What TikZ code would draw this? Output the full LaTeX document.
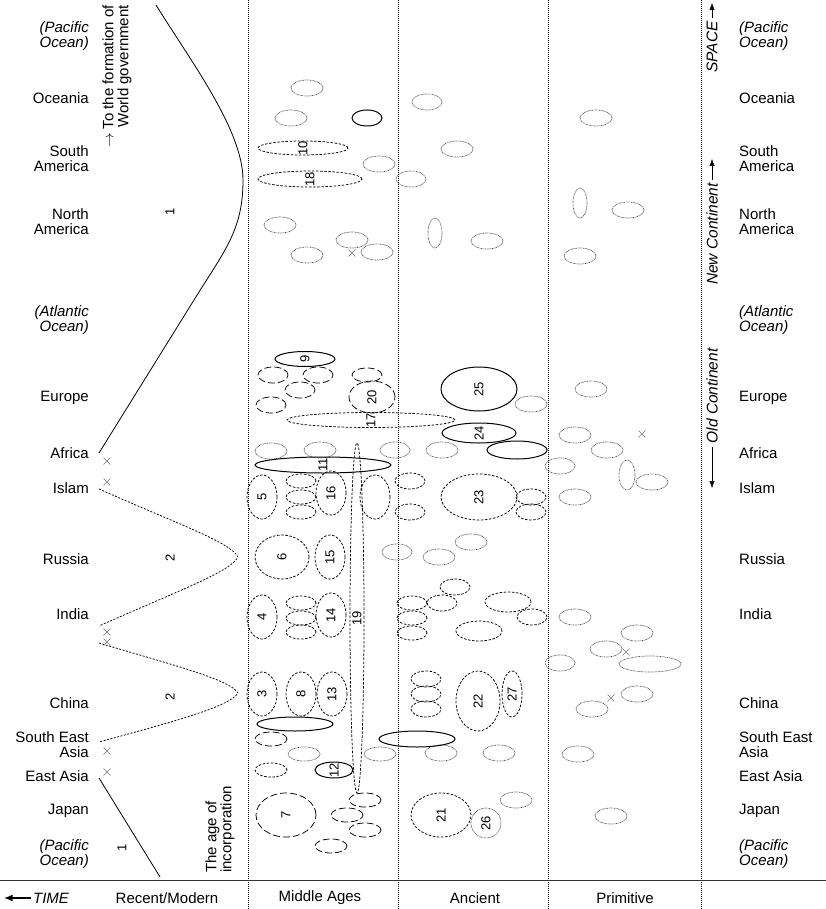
\documentclass[tikz,border=0pt]{standalone}
\usepackage{fontspec}
\setmainfont{Liberation Sans}
\usetikzlibrary{arrows.meta}

\begin{document}
\begin{tikzpicture}[x=1pt, y=-1pt, >={Latex[length=2.4mm, width=1.8mm]},
  every node/.style={font=\fontsize{15}{15}\selectfont, inner sep=0pt},
  plain/.style={},
  ital/.style={font=\fontsize{15}{15}\selectfont\itshape},
  place/.style={align=right, anchor=east},
  placer/.style={align=left, anchor=west},
  rot/.style={rotate=90, font=\fontsize{15.5}{15}\selectfont\itshape},
  num/.style={rotate=90, font=\fontsize{13}{13}\selectfont},
  divider/.style={line width=0.7pt, dash pattern=on 1pt off 1pt},
  dotblob/.style={black!70, line width=0.7pt, dash pattern=on 0.7pt off 0.7pt},
  dashblob/.style={line width=0.75pt, dash pattern=on 2.5pt off 1.6pt},
  longblob/.style={line width=0.75pt, dash pattern=on 7pt off 3pt},
  solidblob/.style={line width=1pt},
  wave/.style={line width=0.8pt},
  dotwave/.style={line width=0.75pt, dash pattern=on 2pt off 1.5pt},
  cross/.style={black!55, line width=0.55pt}]

\useasboundingbox (0,0) rectangle (826,909);

% columns and the time axis
\foreach \x in {248,398,548,701}
  \draw[divider] (\x,0) -- (\x,909);
\draw[black!80, line width=0.8pt] (0,880) -- (826,880);

% places, both sides
\foreach \n/\y/\s/\t in {pacA/36/ital/{(Pacific\\Ocean)}, oce/98/plain/Oceania,
    sam/159/plain/{South\\America}, nam/222/plain/{North\\America},
    atl/320/ital/{(Atlantic\\Ocean)}, eur/398/plain/Europe, afr/453/plain/Africa,
    isl/488/plain/Islam, rus/559/plain/Russia, ind/614/plain/India,
    chi/703/plain/China, sea/745/plain/{South East\\Asia}, eas/776/plain/East Asia,
    jap/811/plain/Japan, pacB/854/ital/{(Pacific\\Ocean)}}
{
  \node[place, \s] (l\n) at (89,\y) {\t};
  \node[placer, \s] (r\n) at (739,\y) {\t};
}

% periods
\node (time) at (51,898) {\itshape TIME};
\coordinate (timeend) at (4,898);
\draw[-{Latex[length=3mm, width=2.4mm]}, line width=1.3pt, shorten <=2pt] (time.west) -- (timeend);
\node (recent) at (167,898) {Recent/Modern};
\node (middle) at (320,898) {Middle Ages};
\node (ancient) at (475,898) {Ancient};
\node (primitive) at (625,898) {Primitive};

\node[rotate=90, align=right, anchor=east] (world) at (117,5) {$\rightarrow$ To the formation of\\World government};
\node[rotate=90, align=left, anchor=west] (incorp) at (220,873) {The age of\\incorporation};

% space arrows
\node[rot] (space) at (712,47) {SPACE};
\coordinate (spacetip) at (712,3);
\draw[->, shorten <=3pt] (space.east) -- (spacetip);
\node[rot] (newc) at (712,234) {New Continent};
\coordinate (newtip) at (712,159);
\draw[->, shorten <=3pt] (newc.east) -- (newtip);
\node[rot] (oldc) at (712,396) {Old Continent};
\coordinate (oldtip) at (712,488);
\draw[->, shorten <=3pt] (oldc.west) -- (oldtip);

% waves of incorporation
\draw[wave] (156,5) .. controls (190,60) and (243,130) .. (243,180)
  .. controls (243,230) and (225,250) .. (194,300) -- (99,453);
\draw[dotwave] (99,489) .. controls (180,525) and (230,542) .. (238,557)
  .. controls (230,572) and (180,590) .. (99,626);
\draw[dotwave] (99,643) .. controls (180,667) and (230,680) .. (238,693)
  .. controls (230,706) and (180,720) .. (99,742);
\draw[wave] (99,778) -- (160,877);
\node[num] (one) at (170,212) {1};
\node[num] (two) at (170,558) {2};
\node[num] (twob) at (170,697) {2};
\node[num] (oneb) at (122,848) {1};

\foreach \x/\y in {107/461,107/482,107/632,107/642,107/751,107/772,352/253,642/434,626/652,611/698}
  \draw[cross] (\x,\y) +(-3.5,-3.5) -- +(3.5,3.5) +(-3.5,3.5) -- +(3.5,-3.5);

% societies
\foreach \x/\y/\a/\b in {307/88/16/8, 291/118/16/8, 379/164/16/8, 280/225/16/8,
    352/240/16/8, 377/252/16/8, 307/255/16/8, 271/451/16/8, 320/450/16/8,
    304/754/16/7, 380/754/16/7, 427/102/15/8, 457/149/16/8, 411/179/15/8,
    435/233/7/15, 487/241/16/8, 531/404/16/8, 395/450/15/8, 442/450/16/8,
    471/542/16/8, 439/557/16/8, 397/552/15/8, 441/753/16/8, 499/753/16/8,
    516/800/16/8, 596/118/16/8, 580/203/7/15, 628/210/16/8, 580/256/16/8,
    591/389/16/8, 575/435/16/8, 607/450/16/8, 560/466/15/8, 627/475/8/15,
    652/482/16/8, 575/497/16/8, 575/617/16/8, 637/633/16/8, 606/649/16/8,
    560/663/15/8, 650/664/31/8, 637/694/16/8, 592/709/16/8, 578/754/16/8,
    611/816/16/8}
  \draw[dotblob] (\x,\y) ellipse [x radius=\a pt, y radius=\b pt];
\draw[dotblob] (486,823) circle [radius=15pt];
\node[num] (e26) at (486,823) {26};

\foreach \x/\y/\a/\b in {301/481/15/7, 301/497/15/7, 301/512/15/7, 375/497/15/22,
    301/603/15/7, 301/618/15/7, 301/632/15/7, 271/770/16/7, 410/481/15/8,
    410/512/15/8, 531/497/15/8, 531/512/15/8, 455/587/15/8, 442/603/15/8,
    412/603/15/7, 412/618/15/7, 412/633/15/7, 508/602/23/10, 532/617/15/8,
    479/631/23/10, 426/679/15/8, 426/694/15/8, 426/709/15/8}
  \draw[dashblob] (\x,\y) ellipse [x radius=\a pt, y radius=\b pt];
\foreach \x/\y/\a/\b/\n in {303/148/45/7/10, 310/179/52/8/18, 371/420/84/7.5/17,
    262/497/15/22/5, 331/493/15/22/16, 282/557/27/22/6, 330/557/15/22/15,
    262/617/15/22/4, 331/615/15/22/14, 262/694/15/22/3, 301/694/15/22/8,
    332/694/15/22/13, 357/618/7/175/19, 479/497/38/23/23, 478/701/22/30/22,
    512/694/10/23/27, 441/815/30/22/21}
{
  \draw[dashblob] (\x,\y) ellipse [x radius=\a pt, y radius=\b pt];
  \node[num] (e\n) at (\x,\y) {\n};
}

\foreach \x/\y/\a/\b in {273/375/15/8, 318/375/15/8, 300/390/15/8, 271/405/15/8,
    367/375/15/7, 271/739/16/7, 365/800/16/7, 347/815/16/7, 365/830/16/7, 331/846/16/7}
  \draw[longblob] (\x,\y) ellipse [x radius=\a pt, y radius=\b pt];
\foreach \x/\y/\a/\b/\n in {372/397/23/16/20, 286/815/30/22/7}
{
  \draw[longblob] (\x,\y) ellipse [x radius=\a pt, y radius=\b pt];
  \node[num] (e\n) at (\x,\y) {\n};
}

\foreach \x/\y/\a/\b in {367/118/15/8, 517/450/30/9, 295/724/38/7, 417/739/38/8}
  \draw[solidblob] (\x,\y) ellipse [x radius=\a pt, y radius=\b pt];
\foreach \x/\y/\a/\b/\n in {305/359/30/7.5/9, 323/465/68/8/11, 479/389/38/22/25,
    479/433/37/10/24, 334/770/19/8/12}
{
  \draw[solidblob] (\x,\y) ellipse [x radius=\a pt, y radius=\b pt];
  \node[num] (e\n) at (\x,\y) {\n};
}
\end{tikzpicture}
\end{document}
